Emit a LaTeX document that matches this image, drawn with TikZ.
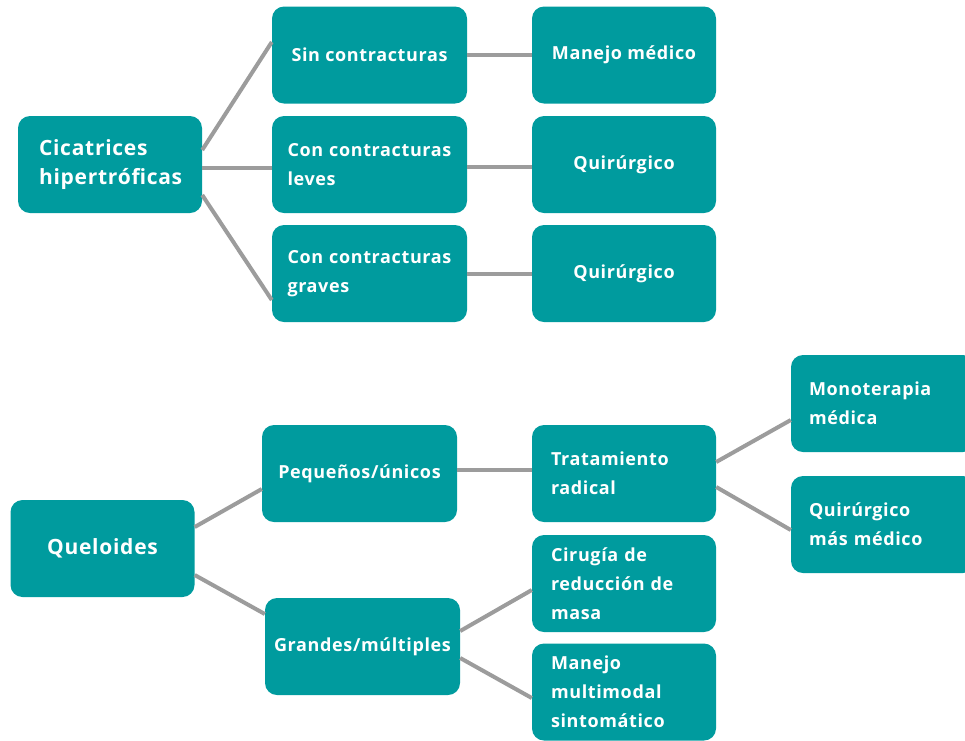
\documentclass[tikz,border=0pt]{standalone}
\usepackage{fontspec}
\setmainfont{Open Sans}[LetterSpace=3.5]
\usepackage{xcolor}
\usepackage{tikz}
\definecolor{boxteal}{HTML}{009B9E}
\definecolor{linegray}{HTML}{9C9C9C}

\begin{document}
\begin{tikzpicture}[
    x=1pt, y=-1pt,
    box/.style={rectangle, rounded corners=12pt, fill=boxteal, text=white, inner sep=0pt,
        font=\bfseries\fontsize{18}{29}\selectfont, minimum height=97pt, align=center},
    wide/.style={box, minimum width=195pt},
    narrow/.style={box, minimum width=184pt},
    left/.style={text width=#1, align=left},
    conn/.style={draw=linegray, line width=4pt}
]
\useasboundingbox (0,0) rectangle (965,740);
\clip (0,0) rectangle (965,740);

\node[narrow, left=142pt, font=\bfseries\fontsize{21}{29}\selectfont] (1_1) at (110,164.5) {Cicatrices\\hipertróficas};
\node[wide] (1_2) at (369.5,55) {Sin contracturas};
\node[wide, left=164pt] (2_2) at (369.5,164.5) {Con contracturas\\leves};
\node[wide, left=164pt] (3_2) at (369.5,273.5) {Con contracturas\\graves};
\node[narrow] (1_3) at (624,55) {Manejo médico};
\node[narrow] (2_3) at (624,164.5) {Quirúrgico};
\node[narrow] (3_3) at (624,273.5) {Quirúrgico};

\node[narrow, font=\bfseries\fontsize{21}{29}\selectfont] (5_1) at (102.5,548.5) {Queloides};
\node[wide] (4_2) at (359.5,473.5) {Pequeños/únicos};
\node[wide] (6_2) at (362.5,646.5) {Grandes/múltiples};
\node[narrow, left=146pt] (4_3) at (624,473.5) {Tratamiento\\radical};
\node[narrow, left=146pt] (5_3) at (624,583.5) {Cirugía de\\reducción de\\masa};
\node[narrow, left=146pt] (6_3) at (624,692) {Manejo\\multimodal\\sintomático};
\node[narrow, left=148pt] (3_4) at (883,403.5) {Monoterapia\\médica};
\node[narrow, left=148pt] (4_4) at (883,524.5) {Quirúrgico\\más médico};

\draw[conn] ([yshift=14.5pt]1_1.east) to ([yshift=13pt]1_2.west);
\draw[conn] ([yshift=-3.5pt]1_1.east) to ([yshift=-3.5pt]2_2.west);
\draw[conn] ([yshift=-30.5pt]1_1.east) to ([yshift=-26.5pt]3_2.west);
\draw[conn] (1_2.east) to (1_3.west);
\draw[conn] ([yshift=-2.5pt]2_2.east) to ([yshift=-2.5pt]2_3.west);
\draw[conn] (3_2.east) to (3_3.west);

\draw[conn] ([yshift=21.5pt]5_1.east) to ([yshift=-15.5pt]4_2.west);
\draw[conn] ([yshift=-26.5pt]5_1.east) to ([yshift=32.5pt]6_2.west);
\draw[conn] ([yshift=3.5pt]4_2.east) to ([yshift=3.5pt]4_3.west);
\draw[conn] ([yshift=15.5pt]6_2.east) to ([yshift=-6.5pt]5_3.west);
\draw[conn] ([yshift=-11.5pt]6_2.east) to ([yshift=-6pt]6_3.west);
\draw[conn] ([yshift=11.5pt]4_3.east) to ([yshift=-16.5pt]3_4.west);
\draw[conn] ([yshift=-13.5pt]4_3.east) to ([yshift=-5.5pt]4_4.west);
\end{tikzpicture}
\end{document}
